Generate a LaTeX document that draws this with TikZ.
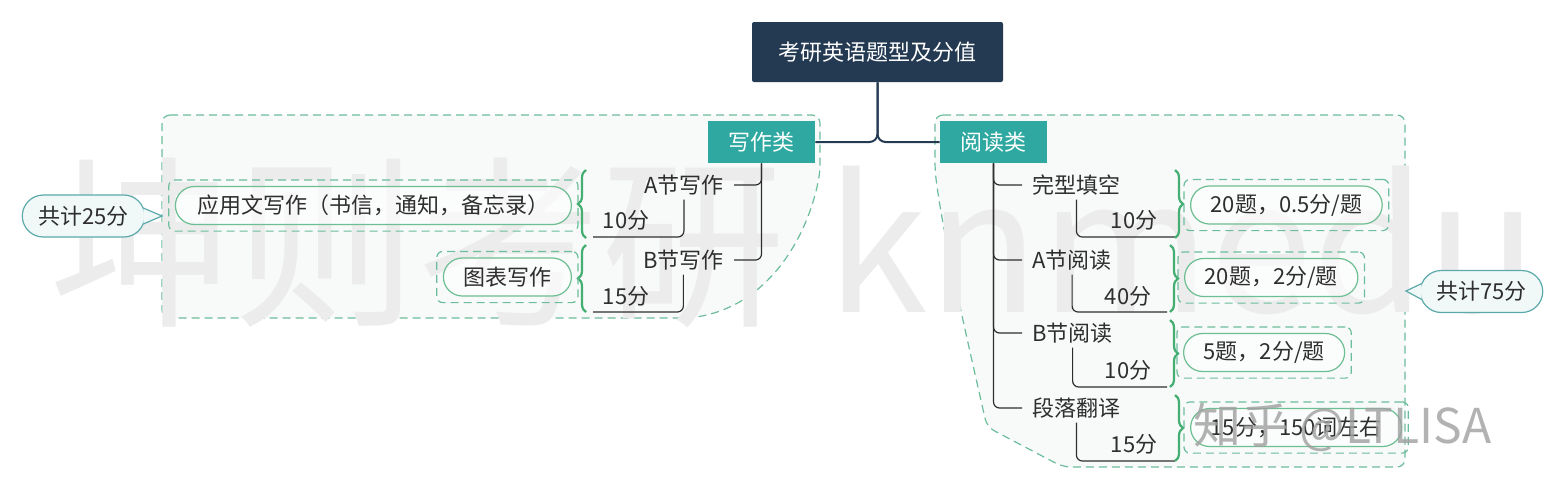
\documentclass[tikz,border=0pt]{standalone}
\usepackage{fontspec}
\setmainfont{Noto Sans CJK SC}
\usetikzlibrary{positioning,fit,decorations.pathreplacing}

\definecolor{rootblue}{HTML}{243A52}
\definecolor{catteal}{HTML}{2EA8A1}
\definecolor{dashgreen}{HTML}{6CBD9B}
\definecolor{bracegreen}{HTML}{45AE72}
\definecolor{pillline}{HTML}{6DBE92}
\definecolor{calline}{HTML}{5CA9AB}
\definecolor{calfill}{HTML}{F1F8F8}
\definecolor{groupfill}{HTML}{F7FAF9}
\definecolor{inkgray}{HTML}{2E2E2E}
\definecolor{markgray}{HTML}{ECECEC}

\tikzset{
  rootbox/.style={fill=rootblue, text=white, minimum width=125.5pt, minimum height=30pt, rounded corners=1pt},
  catbox/.style={fill=catteal, text=white, minimum width=53.5pt, minimum height=21pt},
  item/.style={text=inkgray, inner xsep=5pt, inner ysep=2pt},
  score/.style={text=inkgray, inner sep=1pt},
  pill/.style={draw=pillline, line width=0.6pt, fill=white, fill opacity=0.6, text opacity=1,
    rounded corners=9.5pt, minimum height=19pt, inner xsep=10pt, text=inkgray},
  sumbox/.style={draw=dashgreen, line width=0.6pt, dash pattern=on 4pt off 2.5pt, rounded corners=3pt, inner sep=3pt},
  groupline/.style={draw=dashgreen, line width=0.6pt, dash pattern=on 4pt off 2.5pt, fill=groupfill, rounded corners=4pt},
  bracket/.style={draw=bracegreen, line width=1.1pt, decorate, decoration={brace, amplitude=4pt}},
  trunk/.style={draw=rootblue, line width=1pt, rounded corners=4pt},
  twig/.style={draw=inkgray, line width=0.6pt, rounded corners=3pt},
  callout/.style={draw=calline, line width=0.6pt, fill=calfill, rounded corners=10.5pt,
    minimum height=21pt, inner xsep=8pt, text=inkgray},
}

\begin{document}
\begin{tikzpicture}[x=0.5pt, y=-0.5pt, font=\fontsize{11pt}{13pt}\selectfont]
  \useasboundingbox (0,0) rectangle (1566,489);

  % group areas
  \path[groupline] (162,115) -- (820,115) -- (820,172) .. controls (808,235) and (770,305) .. (690,318) -- (162,318) -- cycle;
  \path[groupline] (935,115) -- (1405,115) -- (1405,467) -- (1063,467) -- (987,427) .. controls (965,330) and (942,230) .. (935,170) -- cycle;

  % watermark
  \node[anchor=west, text=markgray, font=\fontsize{92pt}{92pt}\selectfont] (mark) at (42,243) {坤则考研 knmedu};

  % root and categories
  \node[rootbox] (root) at (877.5,52) {考研英语题型及分值};
  \node[catbox] (writing) at (761.5,142) {写作类};
  \node[catbox] (reading) at (993.5,142) {阅读类};
  \draw[trunk] (root.south) |- (writing.east);
  \draw[trunk] (root.south) |- (reading.west);

  % writing side
  \node[item, anchor=east] (secA) at (734,185) {A节写作};
  \node[item, anchor=east] (secB) at (734,260) {B节写作};
  \node[score] (scA) at (626,220) {10分};
  \node[score] (scB) at (626,296) {15分};
  \coordinate (endA) at (593,237);
  \coordinate (endB) at (593,312);
  \draw[twig] (writing.south) |- (secA.east);
  \draw[twig] (writing.south) |- (secB.east);
  \draw[twig] (secA.south) |- (endA);
  \draw[twig] (secB.south) |- (endB);
  \draw[bracket] (586,238) -- (586,170);
  \draw[bracket] (586,312) -- (586,245);

  \node[pill, anchor=east, inner xsep=11pt] (letter) at (572,205.5) {应用文写作（书信，通知，备忘录）};
  \node[pill, anchor=east] (chart) at (572,277) {图表写作};
  \node[sumbox, fit=(letter)] (sumA) {};
  \node[sumbox, fit=(chart)] (sumB) {};

  \node[callout] (tot25) at (83.5,216) {共计25分};
  \coordinate (tip25) at (162,216);
  \draw[calline, line width=0.6pt, fill=calfill] ([shift={(-1pt,4pt)}]tot25.east) -- (tip25) -- ([shift={(-1pt,-4pt)}]tot25.east);

  % reading side
  \node[item, anchor=west] (cloze) at (1022,185) {完型填空};
  \node[item, anchor=west] (readA) at (1022,260) {A节阅读};
  \node[item, anchor=west] (readB) at (1022,333) {B节阅读};
  \node[item, anchor=west] (trans) at (1022,408) {段落翻译};
  \draw[twig] (reading.south) |- (cloze.west);
  \draw[twig] (reading.south) |- (readA.west);
  \draw[twig] (reading.south) |- (readB.west);
  \draw[twig] (reading.south) |- (trans.west);

  \node[score] (scC) at (1134,220) {10分};
  \node[score] (scRA) at (1128,296) {40分};
  \node[score] (scRB) at (1128,370) {10分};
  \node[score] (scT) at (1134,444) {15分};
  \coordinate (endC) at (1175,237);
  \coordinate (endRA) at (1167,312);
  \coordinate (endRB) at (1167,387);
  \coordinate (endT) at (1175,461);
  \draw[twig] (cloze.south) |- (endC);
  \draw[twig] (readA.south) |- (endRA);
  \draw[twig] (readB.south) |- (endRB);
  \draw[twig] (trans.south) |- (endT);
  \draw[bracket] (1175,170) -- (1175,238);
  \draw[bracket] (1170,245) -- (1170,312);
  \draw[bracket] (1170,320) -- (1170,387);
  \draw[bracket] (1175,395) -- (1175,461);

  \node[pill, anchor=west] (pC) at (1190,205) {20题，0.5分/题};
  \node[pill, anchor=west] (pRA) at (1184,277.5) {20题，2分/题};
  \node[pill, anchor=west] (pRB) at (1183,352.5) {5题，2分/题};
  \node[pill, anchor=west] (pT) at (1190,427.5) {15分，150词左右};
  \node[sumbox, fit=(pC)] (sumC) {};
  \node[sumbox, fit=(pRA)] (sumRA) {};
  \node[sumbox, fit=(pRB)] (sumRB) {};
  \node[sumbox, fit=(pT)] (sumT) {};

  \node[callout] (tot75) at (1481.5,291.5) {共计75分};
  \coordinate (tip75) at (1406,291);
  \draw[calline, line width=0.6pt, fill=calfill] ([shift={(1pt,4pt)}]tot75.west) -- (tip75) -- ([shift={(1pt,-4pt)}]tot75.west);

  % second watermark
  \node[anchor=west, text=gray!75, text opacity=0.8, font=\fontsize{24pt}{24pt}\selectfont] (zhihu) at (1186,427) {知乎 @LTLISA};
\end{tikzpicture}
\end{document}
